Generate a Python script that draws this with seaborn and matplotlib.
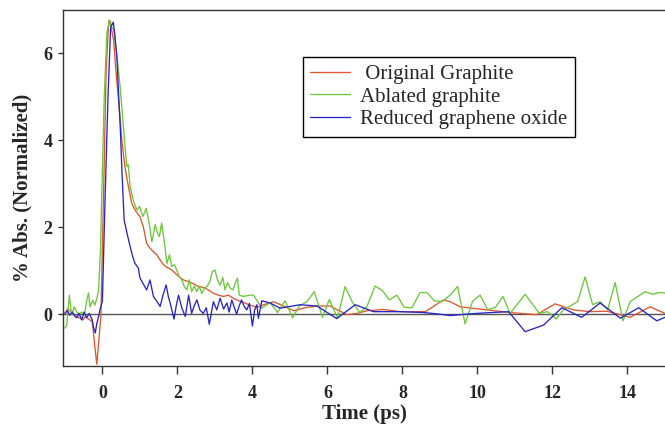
import numpy as np
import pandas as pd
import matplotlib
matplotlib.use("Agg")
import matplotlib.pyplot as plt
import seaborn as sns

# ---------------- data ----------------
labels = [" Original Graphite", "Ablated graphite", "Reduced graphene oxide"]
colors = ["#E2552D", "#6CC83A", "#2626C8"]

t_orig = [-1.0, -0.93, -0.86, -0.75, -0.64, -0.52, -0.45, -0.38, -0.27, -0.15,
          -0.04, 0.03, 0.10, 0.17, 0.23, 0.30, 0.36, 0.43, 0.52, 0.60,
          0.67, 0.78, 0.87, 0.96, 1.0, 1.09, 1.18, 1.27, 1.36, 1.45,
          1.54, 1.63, 1.72, 1.81, 1.90, 1.98, 2.07, 2.16, 2.30, 2.43,
          2.56, 2.69, 2.83, 2.96, 3.09, 3.23, 3.36, 3.49, 3.63, 3.76,
          3.94, 4.12, 4.30, 4.56, 4.83, 5.10, 5.45, 5.80, 6.07, 6.34,
          6.52, 6.79, 7.05, 7.50, 7.94, 8.61, 9.09, 9.27, 9.54, 10.16,
          10.87, 11.58, 12.07, 12.56, 13.0, 13.45, 14.07, 14.6, 15.0]
v_orig = [0.02, 0.12, 0.08, -0.02, -0.07, -0.13, -0.05, -0.10, -0.17, -1.15,
          -0.05, 2.7, 5.6, 6.75, 6.62, 6.3, 5.6, 4.94, 4.0, 3.4,
          3.05, 2.56, 2.40, 2.29, 2.25, 2.02, 1.63, 1.52, 1.44, 1.37,
          1.25, 1.14, 1.08, 1.04, 0.98, 0.91, 0.85, 0.79, 0.75, 0.70,
          0.64, 0.62, 0.56, 0.48, 0.44, 0.41, 0.44, 0.37, 0.31, 0.27,
          0.21, 0.16, 0.22, 0.29, 0.19, 0.08, 0.16, 0.19, 0.19, 0.07,
          -0.01, 0.02, 0.08, 0.11, 0.06, 0.06, 0.33, 0.29, 0.17, 0.11,
          0.04, -0.01, 0.24, 0.10, 0.06, 0.07, -0.07, 0.17, 0.02]

t_abl = [-1.0, -0.95, -0.88, -0.82, -0.75, -0.68, -0.61, -0.55, -0.48, -0.42,
         -0.37, -0.33, -0.26, -0.20, -0.15, -0.10, -0.05, -0.02, 0.05, 0.12,
         0.20, 0.25, 0.30, 0.39, 0.48, 0.56, 0.65, 0.69, 0.74, 0.83,
         0.92, 0.99, 1.08, 1.17, 1.26, 1.32, 1.41, 1.47, 1.52, 1.58,
         1.65, 1.72, 1.79, 1.85, 1.92, 1.98, 2.05, 2.12, 2.18, 2.25,
         2.32, 2.38, 2.45, 2.52, 2.58, 2.65, 2.72, 2.80, 2.87, 2.93,
         3.0, 3.07, 3.14, 3.21, 3.27, 3.34, 3.41, 3.48, 3.54, 3.60,
         3.65, 3.76, 3.94, 4.03, 4.25, 4.47, 4.67, 4.87, 5.07, 5.25,
         5.45, 5.65, 5.87, 6.05, 6.27, 6.47, 6.67, 6.86, 7.05, 7.27,
         7.47, 7.65, 7.85, 8.05, 8.25, 8.47, 8.65, 8.85, 9.05, 9.27,
         9.47, 9.67, 9.87, 10.07, 10.27, 10.47, 10.68, 10.87, 11.27, 11.65,
         11.87, 12.10, 12.29, 12.67, 12.87, 13.07, 13.27, 13.47, 13.67, 13.88,
         14.07, 14.47, 14.67, 14.87, 15.0]
v_abl = [-0.32, -0.25, 0.44, -0.02, 0.17, 0.05, 0.01, 0.05, -0.02, 0.31,
         0.49, 0.17, 0.32, 0.21, 0.36, 0.55, 1.5, 2.63, 5.0, 6.5,
         6.77, 6.6, 6.56, 5.94, 5.17, 4.32, 3.40, 3.44, 2.94, 2.60,
         2.40, 2.48, 2.25, 2.44, 2.02, 1.67, 2.06, 1.86, 1.79, 2.10,
         1.67, 1.17, 1.37, 1.10, 1.14, 1.02, 0.86, 0.79, 0.64, 0.56,
         0.79, 0.52, 0.65, 0.52, 0.65, 0.48, 0.60, 0.65, 0.77, 0.98,
         1.02, 0.79, 0.67, 0.85, 0.56, 0.73, 0.60, 0.56, 0.71, 0.83,
         0.44, 0.41, 0.44, 0.44, 0.14, 0.27, 0.04, 0.31, -0.08, 0.19,
         0.29, 0.52, -0.07, 0.34, -0.09, 0.64, 0.27, 0.04, 0.17, 0.65,
         0.54, 0.33, 0.44, 0.16, 0.15, 0.50, 0.50, 0.31, 0.29, 0.44,
         0.64, -0.22, 0.30, 0.44, 0.11, 0.15, 0.41, 0.02, 0.46, 0.02,
         0.06, -0.11, 0.10, 0.29, 0.86, 0.22, 0.29, 0.10, 0.73, -0.15,
         0.29, 0.52, 0.46, 0.50, 0.49]

t_rgo = [-1.0, -0.93, -0.87, -0.80, -0.73, -0.68, -0.62, -0.55, -0.49, -0.42,
         -0.35, -0.27, -0.24, -0.19, -0.15, -0.10, -0.06, 0.0, 0.07, 0.15,
         0.22, 0.29, 0.33, 0.39, 0.43, 0.48, 0.52, 0.56, 0.58, 0.66,
         0.74, 0.80, 0.87, 0.96, 1.00, 1.09, 1.18, 1.27, 1.36, 1.45,
         1.54, 1.62, 1.70, 1.76, 1.81, 1.91, 1.97, 2.03, 2.12, 2.21,
         2.30, 2.38, 2.45, 2.52, 2.60, 2.69, 2.77, 2.85, 2.96, 3.05,
         3.14, 3.23, 3.32, 3.38, 3.45, 3.52, 3.58, 3.65, 3.71, 3.78,
         3.85, 3.92, 4.00, 4.06, 4.12, 4.16, 4.25, 4.47, 4.74, 5.27,
         5.72, 6.25, 6.74, 7.23, 7.94, 8.56, 8.92, 9.27, 9.80, 10.16,
         10.83, 11.27, 11.76, 12.25, 12.78, 13.27, 13.81, 14.30, 14.78, 15.0]
v_rgo = [0.02, 0.08, -0.02, 0.05, -0.05, -0.08, 0.02, -0.13, 0.05, -0.08,
         0.02, -0.13, -0.29, -0.43, -0.22, -0.05, 0.12, 0.30, 2.6, 5.0,
         6.6, 6.72, 6.45, 5.86, 5.10, 4.24, 3.32, 2.55, 2.17, 1.85,
         1.56, 1.35, 1.17, 1.06, 0.84, 0.70, 0.56, 0.79, 0.41, 0.30,
         0.18, 0.45, 0.675, 0.40, 0.25, -0.11, 0.20, 0.44, 0.14, -0.05,
         0.44, 0.02, 0.20, 0.33, 0.10, 0.02, 0.15, -0.23, 0.29, 0.10,
         0.37, 0.12, 0.26, 0.05, 0.33, 0.15, 0.005, 0.20, 0.33, 0.18,
         0.10, 0.25, -0.27, 0.10, 0.22, -0.09, 0.31, 0.26, 0.14, 0.22,
         0.19, -0.10, 0.22, 0.06, 0.06, 0.04, 0.01, -0.03, 0.01, 0.03,
         0.06, -0.40, -0.25, 0.15, -0.07, 0.26, -0.09, 0.15, -0.15, -0.07]

x_ticks = [0, 2, 4, 6, 8, 10, 12, 14]
y_ticks = [0, 2, 4, 6]

# ---------------- build frame ----------------
frames = []
for lab, tt, vv in [(labels[0], t_orig, v_orig), (labels[1], t_abl, v_abl),
                    (labels[2], t_rgo, v_rgo)]:
    frames.append(pd.DataFrame({"t": tt, "v": vv, "series": lab}))
df = pd.concat(frames, ignore_index=True)

sns.set_style("ticks")
plt.rcParams["font.family"] = ["Liberation Serif", "DejaVu Serif"]

fig = plt.figure(figsize=(6.65, 4.26), dpi=100)
ax = fig.add_axes([63 / 665, 60 / 426, 602 / 665, 356 / 426])

ax.axhline(0, color="#555555", lw=1.0, zorder=1)
sns.lineplot(data=df, x="t", y="v", hue="series", hue_order=labels,
             palette=dict(zip(labels, colors)), sort=False, estimator=None,
             lw=0.95, ax=ax, zorder=2)

ax.set_xlim(-1.05, 15.0)
ax.set_ylim(-1.19, 7.0)
ax.set_xticks(x_ticks)
ax.set_yticks(y_ticks)
ax.set_xticklabels([str(v) for v in x_ticks], fontweight="bold", fontsize=13)
ax.set_yticklabels([str(v) for v in y_ticks], fontweight="bold", fontsize=13)
ax.tick_params(axis="x", direction="out", length=6, width=1, color="#333333", pad=8)
ax.tick_params(axis="y", direction="out", length=3.5, width=1, color="#333333", pad=4)
for s in ["left", "bottom", "top"]:
    ax.spines[s].set_color("#333333")
    ax.spines[s].set_linewidth(1.0)
ax.spines["right"].set_visible(False)

ax.set_xlabel("Time (ps)", fontweight="bold", fontsize=15, labelpad=1)
ax.set_ylabel("% Abs. (Normalized)", fontweight="bold", fontsize=15, labelpad=8)

handles, labs = ax.get_legend_handles_labels()
leg = ax.legend(handles, labs, loc="upper left", bbox_to_anchor=(0.399, 0.868),
                frameon=True, fancybox=False, shadow=False, framealpha=1,
                edgecolor="black", fontsize=15, handlelength=1.9,
                handletextpad=0.5, labelspacing=0.15, borderpad=0.35,
                borderaxespad=0)
leg.get_frame().set_linewidth(1.0)

fig.savefig("out.png", dpi=100, facecolor="white")
